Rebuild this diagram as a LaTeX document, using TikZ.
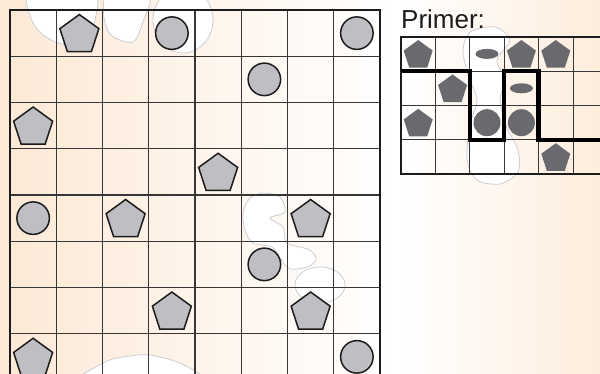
\documentclass[tikz,border=0pt]{standalone}
\usepackage{fontspec}
\setmainfont{Liberation Sans}
\usetikzlibrary{shapes.geometric}
\definecolor{bgpeach}{RGB}{252,233,214}
\definecolor{bgpeachR}{RGB}{253,237,220}
\definecolor{shapefill}{RGB}{190,190,195}
\definecolor{darkfill}{RGB}{105,105,110}
\definecolor{gridc}{RGB}{55,55,55}
\definecolor{blobline}{RGB}{205,205,210}
\definecolor{inkc}{RGB}{28,28,28}
\begin{document}
\begin{tikzpicture}[x=1pt,y=-1pt,
  mpent/.style={regular polygon, regular polygon sides=5, minimum size=41pt, inner sep=0pt, draw=inkc, line width=1.5pt, fill=shapefill},
  mcirc/.style={circle, minimum size=32.5pt, inner sep=0pt, draw=inkc, line width=1.5pt, fill=shapefill},
  ppent/.style={regular polygon, regular polygon sides=5, minimum size=30.5pt, inner sep=0pt, fill=darkfill},
  pcirc/.style={circle, minimum size=27pt, inner sep=0pt, fill=darkfill},
  pell/.style={ellipse, minimum width=23pt, minimum height=10pt, inner sep=0pt, fill=darkfill},
  blob/.style={fill=white, draw=blobline, line width=0.8pt},
  gridline/.style={draw=gridc, line width=1.2pt},
  frame/.style={draw=inkc, line width=2.5pt, line cap=rect},
  pframe/.style={draw=inkc, line width=2pt},
  wall/.style={draw=black, line width=4.5pt, line join=miter}
]
\useasboundingbox (0,0) rectangle (600,374);
\clip (0,0) rectangle (600,374);
% background
\shade[left color=bgpeach, right color=white] (0,0) rectangle (400,374);
\shade[left color=white, right color=bgpeachR] (400,0) rectangle (600,374);
% decorative blobs
\draw[blob] plot[smooth cycle] coordinates {(30,-8) (31,18) (42,34) (62,44) (85,40) (95,20) (93,-8)};
\draw[blob] plot[smooth cycle] coordinates {(108,-8) (104,18) (112,36) (133,42) (143,22) (150,-8)};
\draw[blob] (183,20) ellipse [x radius=30, y radius=33];
\draw[blob] plot[smooth cycle] coordinates {(243,213) (250,198) (263,193) (280,197) (285,212) (270,218) (283,227) (287,243) (310,250) (316,260) (307,267) (290,269) (280,258) (272,247) (253,243) (245,230)};
\draw[blob] (320,285) ellipse [x radius=25, y radius=18];
\draw[blob] plot[smooth cycle] coordinates {(80,385) (105,362) (130,356) (150,355) (180,363) (205,378) (210,392)};
\draw[blob] plot[smooth cycle] coordinates {(463,50) (470,32) (495,27) (510,40) (497,60) (505,80) (500,100) (507,128) (518,150) (518,172) (500,184) (477,180) (467,160) (470,125) (477,100) (468,75)};
% main grid
\foreach \i in {1,...,7} \draw[gridline] ({10+46.25*\i},10) -- ({10+46.25*\i},385);
\foreach \j in {1,...,7} \draw[gridline] (10,{10+46.25*\j}) -- (380,{10+46.25*\j});
\draw[frame] (10,390) -- (10,10) -- (380,10) -- (380,390);
% main shapes
\foreach \r/\c in {0/1,2/0,3/4,4/2,4/6,6/3,6/6,7/0}
  \node[mpent] (mp\r\c) at ({10+46.25*(\c+0.5)},{11.9+46.25*(\r+0.5)}) {};
\foreach \r/\c in {0/3,0/7,1/5,4/0,5/5,7/7}
  \node[mcirc] (mc\r\c) at ({10+46.25*(\c+0.5)},{10+46.25*(\r+0.5)}) {};
% primer
\node[anchor=base west, inner sep=0pt, text=inkc, font=\fontsize{26}{30}\selectfont] (title) at (401,28.3) {Primer:};
\foreach \i in {1,...,6} \draw[gridline, line width=1pt] ({401+34.4*\i},36.7) -- ({401+34.4*\i},174.3);
\foreach \j in {1,2,3} \draw[gridline, line width=1pt] (401,{36.7+34.4*\j}) -- (610,{36.7+34.4*\j});
\draw[pframe] (610,36.7) -- (401,36.7) -- (401,174.3) -- (610,174.3);
\foreach \r/\c in {0/0,0/3,0/4,1/1,2/0,3/4}
  \node[ppent] (pp\r\c) at ({401+34.4*(\c+0.5)},{38.1+34.4*(\r+0.5)}) {};
\foreach \r/\c in {0/2,1/3}
  \node[pell] (pe\r\c) at ({401+34.4*(\c+0.5)},{36.7+34.4*(\r+0.5)}) {};
\foreach \r/\c in {2/2,2/3}
  \node[pcirc] (pc\r\c) at ({401+34.4*(\c+0.5)},{36.7+34.4*(\r+0.5)}) {};
\draw[wall] (401,71.1) -- (469.8,71.1) -- (469.8,139.9) -- (504.2,139.9) -- (504.2,71.1) -- (538.6,71.1) -- (538.6,139.9) -- (615,139.9);
\end{tikzpicture}
\end{document}
